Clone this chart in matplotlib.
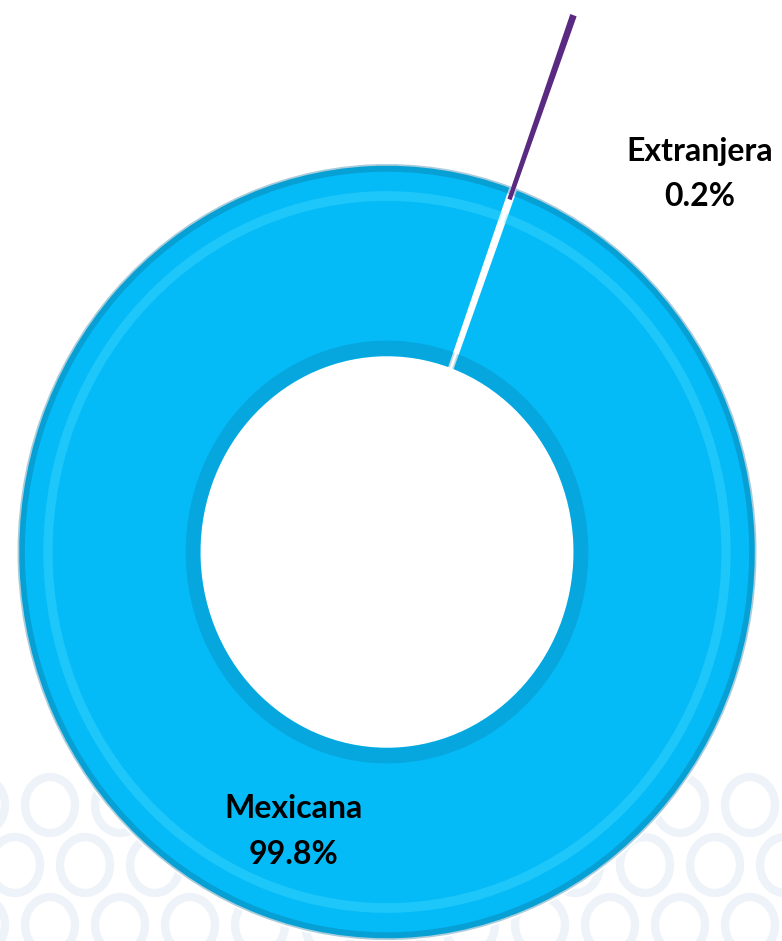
import numpy as np
import matplotlib.pyplot as plt
from matplotlib.patches import Ellipse

categories = ["Mexicana", "Extranjera"]
values = [99.8, 0.2]
labels = ["Mexicana\n99.8%", "Extranjera\n0.2%"]
colors = ["#05BBF7", "#5A2A82"]


def main():
    fig = plt.figure(figsize=(7.82, 9.41), dpi=100)

    # faint decorative pattern at the bottom of the slide
    bg = fig.add_axes([0, 0, 1, 1], zorder=0)
    bg.set_xlim(0, 782)
    bg.set_ylim(941, 0)
    bg.axis("off")
    for row, yy in enumerate([805, 865, 925]):
        for xx in np.arange(-20 + (row % 2) * 35, 800, 70):
            bg.add_patch(Ellipse((xx, yy), 50, 56, fill=False,
                                 edgecolor="#EEF3F9", lw=6))

    ax = fig.add_axes([0, 0, 1, 1], zorder=1)
    ax.patch.set_alpha(0)
    start = 69.6
    wedges, _ = ax.pie(values, colors=colors, startangle=start,
                       counterclock=False, explode=[0, 0.47], radius=1.0,
                       wedgeprops=dict(width=0.5, linewidth=0))
    wedges[0].set_edgecolor("white")
    wedges[0].set_linewidth(2.5)
    wedges[1].set_edgecolor(colors[1])
    wedges[1].set_linewidth(1.5)
    # bevel shading: dark outer rim and dark inner rim, light highlight
    ax.pie(values, colors=["#0A6F98", "none"], startangle=start,
           counterclock=False, radius=1.0,
           wedgeprops=dict(width=0.02, edgecolor="none", alpha=0.35))
    ax.pie(values, colors=["#55E3FF", "none"], startangle=start,
           counterclock=False, radius=0.93,
           wedgeprops=dict(width=0.025, edgecolor="none", alpha=0.3))
    ax.pie(values, colors=["#0A6F98", "none"], startangle=start,
           counterclock=False, radius=0.545,
           wedgeprops=dict(width=0.04, edgecolor="none", alpha=0.25))
    ax.set_aspect("auto")
    ax.set_xlim(-387 / 369.5, (782 - 387) / 369.5)
    ax.set_ylim(-(941 - 552) / 388, 552 / 388)
    ax.axis("off")

    ax.text(0.375, 0.116, labels[0], transform=ax.transAxes, ha="center",
            va="center", fontsize=23, fontweight="bold", family="Lato",
            linespacing=1.7)
    ax.text(0.895, 0.815, labels[1], transform=ax.transAxes, ha="center",
            va="center", fontsize=23, fontweight="bold", family="Lato",
            linespacing=1.7)

    fig.savefig("out.png", dpi=100)


if __name__ == "__main__":
    main()
